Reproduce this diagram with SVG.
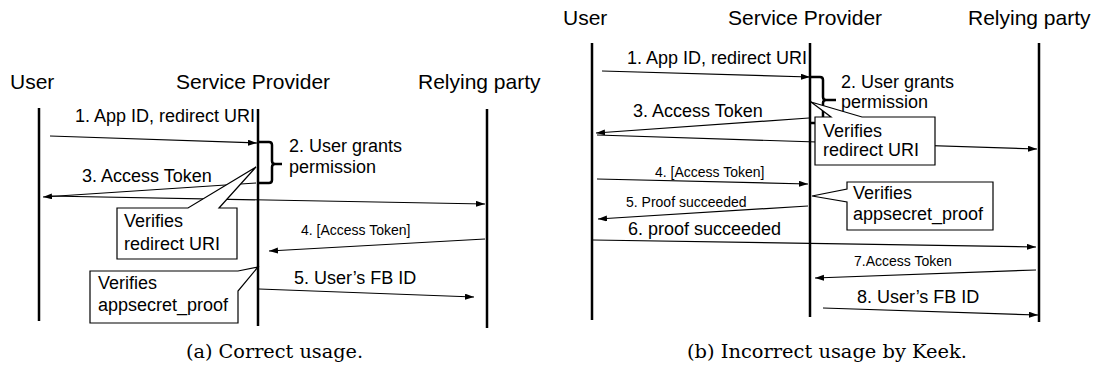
<svg xmlns="http://www.w3.org/2000/svg" width="1097" height="367" viewBox="0 0 1097 367">
<style>
text{font-family:"Liberation Sans",Arial,sans-serif;fill:#000}
.t{font-size:21px}
.m{font-size:18px}
.s{font-size:14px}
.cap{font-family:"DejaVu Serif","Liberation Serif",serif;font-size:18.5px}
.life{stroke:#000;stroke-width:2.5;fill:none}
.msg{stroke:#000;stroke-width:1.2;fill:none;marker-end:url(#ah)}
.br{stroke:#000;stroke-width:2.5;fill:none}
.co{fill:#fff;stroke:#000;stroke-width:1.2}
</style>
<defs>
<marker id="ah" markerUnits="userSpaceOnUse" markerWidth="10" markerHeight="8" refX="9" refY="3" orient="auto">
<path d="M0,0 L9,3 L0,6 Z" fill="#000"/>
</marker>
</defs>
<rect width="1097" height="367" fill="#fff"/>

<!-- Left panel -->
<g id="a-user"><text class="t" x="10" y="89">User</text><line class="life" x1="39" y1="108" x2="39" y2="321"/></g>
<g id="a-sp"><text class="t" x="176" y="89">Service Provider</text><line class="life" x1="258" y1="109" x2="258" y2="326"/></g>
<g id="a-rp"><text class="t" x="418" y="89">Relying party</text><line class="life" x1="487" y1="109" x2="487" y2="328"/></g>

<g id="a-connectors">
<line class="msg" x1="50" y1="136" x2="257" y2="143"/>
<line class="msg" x1="256" y1="183" x2="43" y2="197"/>
<line class="msg" x1="48" y1="196" x2="485" y2="204"/>
<line class="msg" x1="485" y1="239" x2="269" y2="251"/>
<line class="msg" x1="259" y1="289" x2="474" y2="297"/>
</g>
<g id="a-labels">
<text class="m" x="75" y="122">1. App ID, redirect URI</text>
<text class="m" x="82" y="182">3. Access Token</text>
<text class="s" x="301" y="235">4. [Access Token]</text>
<text class="m" x="294" y="284">5. User’s FB ID</text>
</g>
<g id="a-grant">
<path class="br" d="M259,142 H269 Q272,142 272,145 V161 Q272,164 275,164 H282 M275,164 Q272,164 272,167 V180 Q272,183 269,183 H259"/>
<text class="m" x="289" y="152">2. User grants</text>
<text class="m" x="289" y="173">permission</text>
</g>
<g id="a-verify-uri">
<path class="co" d="M117,208 L188,208 L256,167 L219,208 L237,208 L237,259 L117,259 Z"/>
<text class="m" x="124" y="227">Verifies</text>
<text class="m" x="124" y="250">redirect URI</text>
</g>
<g id="a-verify-proof">
<path class="co" d="M90,271 L238,271 L258,267 L238,291 L238,323 L90,323 Z"/>
<text class="m" x="98" y="289">Verifies</text>
<text class="m" x="98" y="311">appsecret_proof</text>
</g>
<text class="cap" x="186" y="358" textLength="177" lengthAdjust="spacingAndGlyphs">(a) Correct usage.</text>

<!-- Right panel -->
<g id="b-user"><text class="t" x="563" y="25">User</text><line class="life" x1="592" y1="43" x2="592" y2="320"/></g>
<g id="b-sp"><text class="t" x="728" y="25">Service Provider</text><line class="life" x1="810" y1="43" x2="810" y2="317"/></g>
<g id="b-rp"><text class="t" x="968" y="25">Relying party</text><line class="life" x1="1039" y1="43" x2="1039" y2="322"/></g>

<g id="b-connectors">
<line class="msg" x1="602" y1="71" x2="810" y2="77"/>
<line class="msg" x1="809" y1="118" x2="596" y2="133"/>
<line class="msg" x1="597" y1="135" x2="1037" y2="149"/>
<line class="msg" x1="597" y1="179" x2="808" y2="184"/>
<line class="msg" x1="808" y1="206" x2="598" y2="219"/>
<line class="msg" x1="593" y1="240" x2="1036" y2="247"/>
<line class="msg" x1="1036" y1="270" x2="815" y2="278"/>
<line class="msg" x1="823" y1="308" x2="1038" y2="315"/>
</g>
<g id="b-labels">
<text class="m" x="627" y="64">1. App ID, redirect URI</text>
<text class="m" x="633" y="117">3. Access Token</text>
<text class="s" x="655" y="177">4. [Access Token]</text>
<text class="s" x="626" y="207">5. Proof succeeded</text>
<text class="m" x="628" y="235">6. proof succeeded</text>
<text class="s" x="854" y="266">7.Access Token</text>
<text class="m" x="857" y="303">8. User’s FB ID</text>
</g>
<g id="b-grant">
<path class="br" d="M811,77 H820 Q823,77 823,80 V97 Q823,100 826,100 H836 M826,100 Q823,100 823,103 V120 Q823,123 820,123 H811"/>
<text class="m" x="841" y="88">2. User grants</text>
<text class="m" x="841" y="108">permission</text>
</g>
<g id="b-verify-uri">
<path class="co" d="M815,117 L831,117 L811,102 L862,117 L935,117 L935,165 L815,165 Z"/>
<text class="m" x="823" y="137">Verifies</text>
<text class="m" x="823" y="156">redirect URI</text>
</g>
<g id="b-verify-proof">
<path class="co" d="M847,182 L993,182 L993,230 L847,230 L847,202 L812,196 L847,189 Z"/>
<text class="m" x="853" y="199">Verifies</text>
<text class="m" x="853" y="220">appsecret_proof</text>
</g>
<text class="cap" x="687" y="358" textLength="280" lengthAdjust="spacingAndGlyphs">(b) Incorrect usage by Keek.</text>
</svg>
